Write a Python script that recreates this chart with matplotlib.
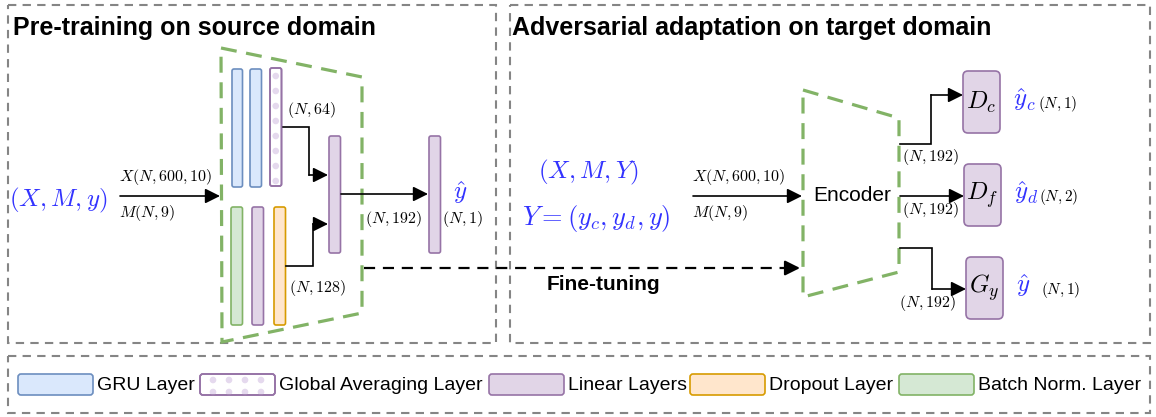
import matplotlib
matplotlib.use('Agg')
import matplotlib.pyplot as plt
from matplotlib.patches import FancyBboxPatch, Polygon, Circle, Rectangle

# ---- texts / labels of the diagram ----
panel_titles = ['Pre-training on source domain', 'Adversarial adaptation on target domain']
legend_labels = ['GRU Layer', 'Global Averaging Layer', 'Linear Layers', 'Dropout Layer', 'Batch Norm. Layer']
legend_kinds = ['gru', 'gap', 'linear', 'dropout', 'bn']
input_shapes = [r'$X(N,600,10)$', r'$M(N,9)$']
src_inputs = r'$(X,M,y)$'
tgt_inputs = [r'$(X,M,Y)$', r'$Y=(y_c,y_d,y)$']
branch_shapes = [r'$(N,64)$', r'$(N,128)$']
feat_shape = r'$(N,192)$'
src_output = [r'$\hat{y}$', r'$(N,1)$']
heads = [r'$D_c$', r'$D_f$', r'$G_y$']
head_outputs = [r'$\hat{y}_c$', r'$\hat{y}_d$', r'$\hat{y}$']
head_shapes = [r'$(N,1)$', r'$(N,2)$', r'$(N,1)$']
finetune_label = 'Fine-tuning'
encoder_label = 'Encoder'

style = {
    'gru': ('#dae8fc', '#6c8ebf'),
    'gap': ('#ffffff', '#9673a6'),
    'linear': ('#e1d5e7', '#9673a6'),
    'dropout': ('#ffe6cc', '#d79b00'),
    'bn': ('#d5e8d4', '#82b366'),
}
BLUE = '#3333ff'
GREEN = '#82b366'
GRAY = '#858585'
DOT = '#e5d9ee'

plt.rcParams['font.family'] = ['Liberation Sans', 'DejaVu Sans']
plt.rcParams['mathtext.fontset'] = 'cm'

W, H = 1156, 417
fig = plt.figure(figsize=(W / 100, H / 100), dpi=100)
ax = fig.add_axes([0, 0, 1, 1])
ax.set_xlim(0, W)
ax.set_ylim(H, 0)
ax.axis('off')


def layer(kind, x, y, w, h, r=2):
    fc, ec = style[kind]
    ax.add_patch(FancyBboxPatch((x, y), w, h, boxstyle='round,pad=0,rounding_size=%g' % r,
                                fc=fc, ec=ec, lw=1.2, zorder=1.8))
    if kind == 'gap':
        # faint dotted pattern
        if h > w:
            yy = y + 8
            while yy < y + h - 4:
                ax.add_patch(Circle((x + w / 2, yy), 3.3, fc=DOT, ec='none', zorder=1.9))
                yy += 15
        else:
            xx = x + 13
            while xx < x + w - 12:
                for yy in (y + 6, y + h - 3):
                    ax.add_patch(Circle((xx, yy), 3.3, fc=DOT, ec='none', zorder=1.9))
                xx += 16
        # redraw the outline over the dots
        ax.add_patch(FancyBboxPatch((x, y), w, h, boxstyle='round,pad=0,rounding_size=%g' % r,
                                    fc='none', ec=ec, lw=1.2, zorder=2.1))


def dbox(x0, y0, x1, y1):
    ax.add_patch(Rectangle((x0, y0), x1 - x0, y1 - y0, fill=False, ec=GRAY, lw=1.5,
                           ls=(0, (4, 3))))


def arrow(pts, lw=1.2):
    xs = [p[0] for p in pts]
    ys = [p[1] for p in pts]
    if len(pts) > 2:
        ax.plot(xs[:-1], ys[:-1], color='black', lw=lw, solid_joinstyle='miter')
    ax.annotate('', xy=pts[-1], xytext=pts[-2],
                arrowprops=dict(arrowstyle='-|>,head_length=0.6,head_width=0.3', color='black',
                                lw=lw, mutation_scale=15, shrinkA=0, shrinkB=0))


def mtext(x, y, s, size=11.5, color='black', ha='left'):
    ax.text(x, y, s, fontsize=size, color=color, ha=ha, va='center')


# ---- panel frames ----
dbox(8, 5, 496, 343)
dbox(510, 5, 1150, 343)
dbox(8, 356, 1150, 413)
ax.text(13, 28, panel_titles[0], fontsize=18, fontweight='bold', va='center')
ax.text(512, 28, panel_titles[1], fontsize=18, fontweight='bold', va='center')

# ---- source encoder ----
ax.add_patch(Polygon([(221, 48), (362, 77), (362, 313), (222, 342)], closed=True, fill=False,
                     ec=GREEN, lw=2.3, ls=(0, (5, 3)), joinstyle='miter'))
layer('gru', 232, 69, 10.5, 118)
layer('gru', 250, 69, 11.5, 118)
layer('gap', 270, 68, 11.5, 118)
layer('bn', 231, 207, 11.5, 118)
layer('linear', 252, 207, 11.5, 118)
layer('dropout', 274, 207, 11.5, 118)
layer('linear', 329, 136, 11.5, 117)
layer('linear', 429, 136, 11.5, 117)

mtext(9, 200, src_inputs, size=18, color=BLUE)
arrow([(120, 196), (220, 196)])
mtext(119, 177, input_shapes[0])
mtext(119, 213, input_shapes[1])

arrow([(282, 127), (309, 127), (309, 175), (328, 175)])
arrow([(286, 266), (313, 266), (313, 224), (328, 224)])
arrow([(341, 194), (428, 194)])
mtext(287, 110, branch_shapes[0])
mtext(289, 288, branch_shapes[1])
mtext(365, 219, feat_shape)
mtext(442, 219, src_output[1])
mtext(453, 193, src_output[0], size=18, color=BLUE)

# ---- fine-tuning link ----
ax.plot([364, 788], [268, 268], color='black', lw=1.6, ls=(0, (5, 3.5)))
arrow([(786, 268), (800, 268)], lw=1.6)
ax.text(547, 285, finetune_label, fontsize=15, fontweight='bold', va='center')

# ---- target encoder ----
ax.add_patch(Polygon([(803, 90), (899, 118), (899, 272), (803, 297)], closed=True, fill=False,
                     ec=GREEN, lw=2.3, ls=(0, (5, 3)), joinstyle='miter'))
ax.text(813, 195, encoder_label, fontsize=15, va='center')
mtext(538, 172, tgt_inputs[0], size=18, color=BLUE)
mtext(522, 218, tgt_inputs[1], size=19, color=BLUE)
arrow([(693, 196), (802, 196)])
mtext(692, 177, input_shapes[0])
mtext(692, 213, input_shapes[1])

head_box_x = [963, 964, 966]
head_box_y = [71, 164, 257]
head_paths = [
    [(900, 144), (931, 144), (931, 95), (963, 95)],
    [(900, 196), (964, 196)],
    [(900, 248), (932, 248), (932, 289), (966, 289)],
]
shape_label_pos = [(902, 157), (902, 210), (899, 303)]
for i in range(3):
    bx, by = head_box_x[i], head_box_y[i]
    layer('linear', bx, by, 37, 62, r=5)
    ax.text(bx + 18.5, by + 31, heads[i], fontsize=18, ha='center', va='center')
    arrow(head_paths[i])
    mtext(shape_label_pos[i][0], shape_label_pos[i][1], feat_shape)
    mtext(bx + 50, by + 29, head_outputs[i], size=18, color=BLUE)
    mtext(bx + 75, by + 33, head_shapes[i], size=11)

# ---- legend ----
legend_x = [18, 200, 489, 690, 899]
for kind, lab, lx in zip(legend_kinds, legend_labels, legend_x):
    layer(kind, lx, 374, 75, 21, r=3)
    ax.text(lx + 79, 385, lab, fontsize=14, va='center')

fig.savefig('out.png', dpi=100)
